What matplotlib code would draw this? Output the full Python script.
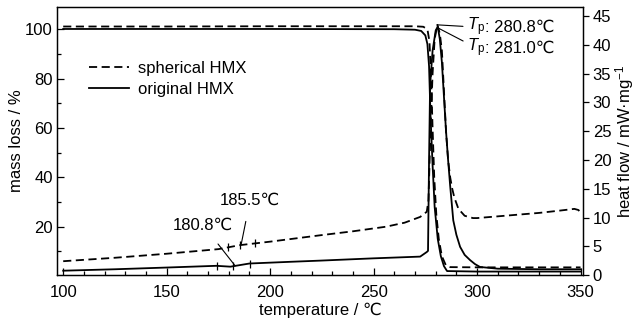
import matplotlib
matplotlib.use("Agg")
import matplotlib.pyplot as plt
from matplotlib.ticker import MultipleLocator

plt.rcParams['font.family'] = ['Liberation Sans', 'DejaVu Sans']
plt.rcParams['mathtext.fontset'] = 'custom'
plt.rcParams['mathtext.rm'] = 'Liberation Sans'
plt.rcParams['mathtext.it'] = 'Liberation Sans:italic'

# ---- TG (mass loss, left axis) ----
tg_sph_T = [100, 150, 200, 250, 270, 274, 276, 277, 277.8, 278.5, 279.3, 280.3, 281.5, 283, 285, 287, 300, 350]
tg_sph_m = [101.1, 101.1, 101.2, 101.2, 101.2, 101.0, 100.0, 95, 80, 60, 40, 25, 15, 8, 4.2, 3.6, 3.5, 3.5]
tg_ori_T = [100, 150, 200, 260, 270, 273, 275, 276, 276.8, 277.5, 278.5, 279.5, 281, 282.5, 284, 285.5, 300, 350]
tg_ori_m = [100.1, 100.1, 100.1, 100.0, 99.8, 99.3, 97.5, 94, 85, 65, 45, 28, 15, 8, 4, 2.0, 1.8, 1.8]

# ---- DSC (heat flow, right axis) ----
dsc_sph_T = [100, 125, 150, 175, 185.5, 200, 224, 240, 256, 265, 272.5, 275.7, 276.5, 277.5, 278.5, 279.5, 280.8,
             282, 283, 284, 285, 286, 287, 288, 289, 291, 294, 298, 300, 310, 320, 330, 340, 347, 349, 350]
dsc_sph_h = [2.4, 3.0, 3.7, 4.5, 5.2, 5.8, 6.9, 7.6, 8.4, 9.1, 10.1, 11.0, 13, 25, 35, 41, 43.5,
             42, 39, 32, 25, 20, 17, 15, 13.5, 11.5, 10.3, 9.9, 9.9, 10.2, 10.5, 10.8, 11.2, 11.5, 11.3, 10.8]
dsc_ori_T = [100, 125, 150, 174, 180.8, 190, 210, 224, 250, 272.5, 275.7, 276.3, 276.8, 277.3, 278.5, 280, 281,
             282, 283, 284, 285, 286, 287, 288.5, 290, 291.8, 294, 296.6, 299, 301.4, 310, 330, 350]
dsc_ori_h = [0.75, 1.0, 1.3, 1.6, 1.45, 2.0, 2.3, 2.5, 2.9, 3.2, 4.0, 4.2, 20, 33, 39, 42.5, 43.2,
             41, 37, 31, 25, 20, 15.5, 9.5, 7, 4.9, 3.5, 2.6, 1.9, 1.4, 1.1, 1.0, 1.0]

# onset tangent tick marks
tick_sph_T = [179.6, 185.5, 192.8]
tick_sph_h = [4.9, 5.2, 5.5]
tick_ori_T = [174.2, 182.0, 190.3]
tick_ori_h = [1.6, 1.5, 2.0]

fig = plt.figure(figsize=(6.36, 3.26), dpi=100)
ax = fig.add_axes([0.0896, 0.1564, 0.8271, 0.8221])
ax2 = ax.twinx()

dash = (0, (4.5, 2.5))
lw = 1.3
ax.plot(tg_sph_T, tg_sph_m, color='black', lw=lw, linestyle=dash, label='spherical HMX')
ax.plot(tg_ori_T, tg_ori_m, color='black', lw=lw, linestyle='-', label='original HMX')
ax2.plot(dsc_sph_T, dsc_sph_h, color='black', lw=lw, linestyle=dash)
ax2.plot(dsc_ori_T, dsc_ori_h, color='black', lw=lw, linestyle='-')
ax2.plot(tick_sph_T, tick_sph_h, linestyle='none', marker='|', color='black', ms=6, mew=0.9)
ax2.plot(tick_ori_T, tick_ori_h, linestyle='none', marker='|', color='black', ms=6, mew=0.9)

ax.set_xlim(97, 351.2)
ax.set_ylim(0.4, 109)
ax2.set_ylim(0, 46.6)

fs = 12
ax.xaxis.set_major_locator(MultipleLocator(50))
ax.xaxis.set_minor_locator(MultipleLocator(10))
ax.yaxis.set_major_locator(MultipleLocator(20))
ax.yaxis.set_minor_locator(MultipleLocator(10))
ax.tick_params(axis='both', which='major', direction='in', length=5, width=0.9, labelsize=fs)
ax.tick_params(axis='both', which='minor', direction='in', length=3, width=0.9)
ax2.yaxis.set_major_locator(MultipleLocator(5))
ax2.tick_params(axis='y', which='major', direction='out', length=4, width=0.9, labelsize=fs, pad=3)
ax.tick_params(axis='x', pad=7)
ax.tick_params(axis='y', pad=3)

ax.set_xlabel('temperature / ℃', fontsize=fs, labelpad=2)
ax.set_ylabel('mass loss / %', fontsize=fs, labelpad=1)
ax2.set_ylabel('heat flow / mW·mg$^{-1}$', fontsize=fs, labelpad=1.5)

for a in (ax, ax2):
    for s in a.spines.values():
        s.set_linewidth(0.9)

leg = ax.legend(loc='upper left', bbox_to_anchor=(0.045, 0.83), frameon=False, fontsize=fs,
                handlelength=2.4, handletextpad=0.55, labelspacing=0.35, borderpad=0)

# annotations
ax2.annotate('185.5℃', xy=(186, 5.3), xytext=(190.3, 13.0), fontsize=fs, ha='center', va='center',
             arrowprops=dict(arrowstyle='-', color='black', lw=0.8, shrinkA=8, shrinkB=0))
ax2.annotate('180.8℃', xy=(183.1, 1.6), xytext=(167.6, 8.7), fontsize=fs, ha='center', va='center',
             arrowprops=dict(arrowstyle='-', color='black', lw=0.8, shrinkA=8, shrinkB=0))

tp_labels = [': 280.8℃', ': 281.0℃']
tp_peaks = [(280.7, 43.5), (280.9, 43.0)]
tp_text_y = [43.1, 39.5]
tp_objs = []
for (px, py), ty in zip(tp_peaks, tp_text_y):
    t = ax2.annotate(r'$\it{T}$$_{\rm p}$', xy=(px, py), xytext=(295.2, ty), fontsize=fs,
                     ha='left', va='center',
                     arrowprops=dict(arrowstyle='-', color='black', lw=0.8, shrinkA=1, shrinkB=0))
    tp_objs.append(t)

fig.canvas.draw()
renderer = fig.canvas.get_renderer()
for t, lab, ty in zip(tp_objs, tp_labels, tp_text_y):
    bb = t.get_window_extent(renderer)
    yc = ax2.transData.transform((295.2, ty))[1]
    fx, fy = fig.transFigure.inverted().transform((bb.x1, yc))
    fig.text(fx, fy, lab, fontsize=fs, ha='left', va='center')

fig.savefig('out.png', dpi=100)
